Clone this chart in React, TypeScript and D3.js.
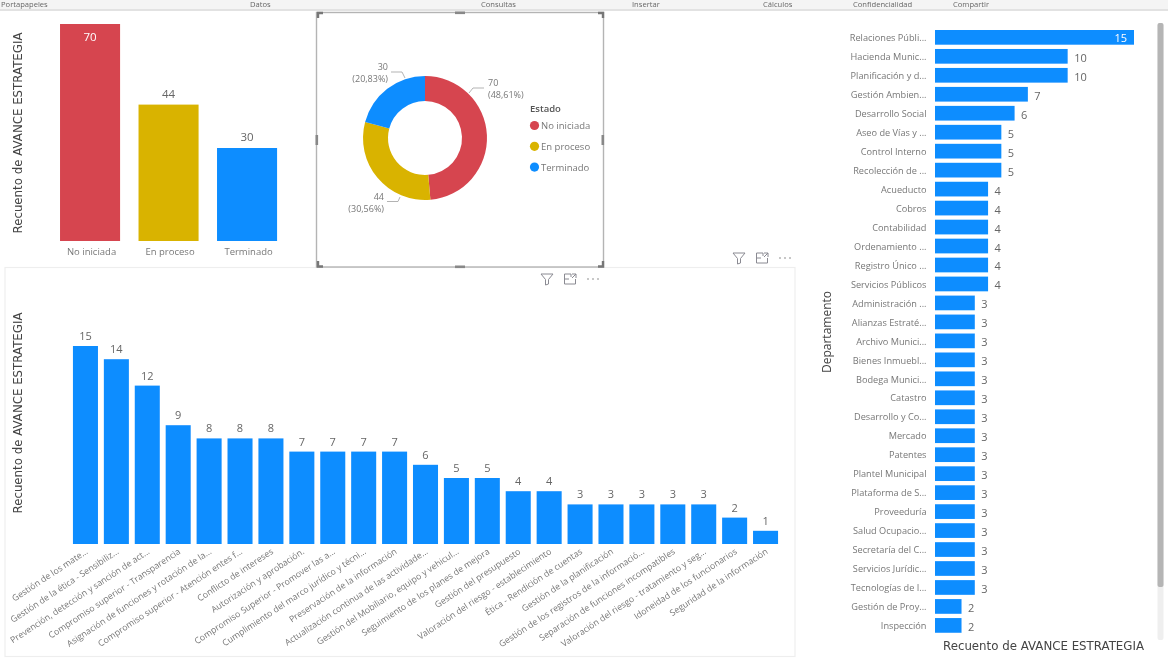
import React from "react";
import * as d3 from "d3";

const estados = ["No iniciada", "En proceso", "Terminado"];
const estadoValues = [70, 44, 30];
const estadoColors = ["#D64550", "#D9B300", "#118DFF"];
const estadoPct = ["(48,61%)", "(30,56%)", "(20,83%)"];

const procesos = [
  "Gestión de los mate...", "Gestión de la ética - Sensibiliz...", "Prevención, detección y sanción de act...",
  "Compromiso superior - Transparencia", "Asignación de funciones y rotación de la...", "Compromiso superior - Atención entes f...",
  "Conflicto de intereses", "Autorización y aprobación.", "Compromiso Superior - Promover las a...",
  "Cumplimiento del marco jurídico y técni...", "Preservación de la información", "Actualización continua de las actividade...",
  "Gestión del Mobiliario, equipo y vehicul...", "Seguimiento de los planes de mejora", "Gestión del presupuesto",
  "Valoración del riesgo - establecimiento", "Ética - Rendición de cuentas", "Gestión de la planificación",
  "Gestión de los registros de la informació...", "Separación de funciones incompatibles", "Valoración del riesgo - tratamiento y seg...",
  "Idoneidad de los funcionarios", "Seguridad de la información",
];
const procesoValues = [15, 14, 12, 9, 8, 8, 8, 7, 7, 7, 7, 6, 5, 5, 4, 4, 3, 3, 3, 3, 3, 2, 1];

const departamentos = [
  "Relaciones Públi...", "Hacienda Munic...", "Planificación y d...", "Gestión Ambien...", "Desarrollo Social", "Aseo de Vías y ...",
  "Control Interno", "Recolección de ...", "Acueducto", "Cobros", "Contabilidad", "Ordenamiento ...", "Registro Único ...",
  "Servicios Públicos", "Administración ...", "Alianzas Estraté...", "Archivo Munici...", "Bienes Inmuebl...", "Bodega Munici...",
  "Catastro", "Desarrollo y Co...", "Mercado", "Patentes", "Plantel Municipal", "Plataforma de S...", "Proveeduría",
  "Salud Ocupacio...", "Secretaría del C...", "Servicios Jurídic...", "Tecnologías de I...", "Gestión de Proy...", "Inspección",
];
const departamentoValues = [15, 10, 10, 7, 6, 5, 5, 5, 4, 4, 4, 4, 4, 4, 3, 3, 3, 3, 3, 3, 3, 3, 3, 3, 3, 3, 3, 3, 3, 3, 2, 2];

const ribbonLabels = ["Portapapeles", "Datos", "Consultas", "Insertar", "Cálculos", "Confidencialidad", "Compartir"];
const ribbonX = [1, 250, 481, 632, 763, 853, 953];

const FONT = "'Open Sans', sans-serif";
const TITLE_FONT = "'DejaVu Sans', sans-serif";
const BLUE = "#118DFF";

function Icons({ x, y }: { x: number; y: number }) {
  return (
    <g transform={`translate(${x},${y})`} fill="none" stroke="#8a8a92" strokeWidth={1}>
      <path d="M-6,-5 H6 L1.5,0.5 V5 L-1.5,6 V0.5 Z" />
      <path d="M24,-2 V-5 H17.5 V5 H28.5 V0 M22,0 H17.5 M25,-5 H29 V-1 M29,-5 L25,-1" />
      <circle cx={41} cy={0} r={0.7} fill="#666" stroke="none" />
      <circle cx={46} cy={0} r={0.7} fill="#666" stroke="none" />
      <circle cx={51} cy={0} r={0.7} fill="#666" stroke="none" />
    </g>
  );
}

export default function App() {
  // top-left bars
  const x1 = d3.scaleBand().domain(estados).range([50.8, 286.3]).paddingInner(0.235).paddingOuter(0.1175);
  const y1 = d3.scaleLinear().domain([0, 70]).range([241, 24]);

  // donut
  const pie = d3.pie<number>().sort(null).startAngle(0).endAngle(Math.PI * 2)(estadoValues);
  const arc = d3.arc<d3.PieArcDatum<number>>().innerRadius(37).outerRadius(62);
  const donutLabels = [
    { line: "M469,93 L473,88 L484,88", a: [488, 83], b: [488, 95], anchor: "start" },
    { line: "M400,197 L398,201.5 L387,201.5", a: [384, 197], b: [384, 209], anchor: "end" },
    { line: "M405,78 L402,72 L391,72", a: [388, 67], b: [388, 79], anchor: "end" },
  ];

  // bottom bars
  const x2 = d3.scaleBand().domain(procesos).range([70, 781]).paddingInner(0.19).paddingOuter(0.095);
  const y2 = d3.scaleLinear().domain([0, 15]).range([544, 346]);

  // right bars
  const y3 = d3.scaleBand().domain(departamentos).range([27.87, 634.9]).paddingInner(0.225).paddingOuter(0.1125);
  const x3 = d3.scaleLinear().domain([0, 15]).range([935, 1134]);

  return (
    <svg width={1168} height={668} style={{ position: "absolute", left: 0, top: 0, display: "block", background: "#fff" }}>
      <defs>
        <filter id="soft" x="-2%" y="-2%" width="104%" height="104%"><feGaussianBlur stdDeviation="0.35" /></filter>
      </defs>
      <g filter="url(#soft)">
        {/* ribbon remnant */}
        <rect x={0} y={0} width={1168} height={9} fill="#f4f4f4" />
        <rect x={0} y={9} width={1168} height={2} fill="#e2e2e2" />
        {ribbonLabels.map((t, i) => (
          <text key={t} x={ribbonX[i]} y={6.5} fontFamily={FONT} fontSize={7.6} fill="#666">{t}</text>
        ))}

        {/* panels */}
        <rect x={5} y={267.5} width={790} height={389} fill="#fff" stroke="#eeeeee" strokeWidth={1.2} />
        <rect x={316.5} y={12.5} width={287} height={254.5} fill="#fff" stroke="#b4b4b4" strokeWidth={1.4} />
        <g fill="none" stroke="#777" strokeWidth={2.4}>
          <path d="M318,18 V13 H323" />
          <path d="M598,13 H603 V18" />
          <path d="M318,261 V266.5 H323" />
          <path d="M598,266.5 H603 V261" />
        </g>
        <g fill="#888">
          <rect x={455} y={11.5} width={10} height={2.6} />
          <rect x={455} y={265.5} width={10} height={2.6} />
          <rect x={315.5} y={135} width={2.6} height={10} />
          <rect x={601.5} y={135} width={2.6} height={10} />
        </g>
        <Icons x={739} y={258} />
        <Icons x={547} y={279} />

        {/* top-left bars */}
        {estados.map((c, i) => (
          <g key={c}>
            <rect x={x1(c)} y={y1(estadoValues[i])} width={x1.bandwidth()} height={y1(0) - y1(estadoValues[i])} fill={estadoColors[i]} />
            <text
              x={x1(c)! + x1.bandwidth() / 2}
              y={i === 0 ? y1(estadoValues[i]) + 17 : y1(estadoValues[i]) - 7}
              textAnchor="middle" fontFamily={FONT} fontSize={11.5}
              fill={i === 0 ? "#fff" : "#666"}
            >{estadoValues[i]}</text>
            <text x={x1(c)! + x1.bandwidth() / 2 + 1.5} y={255} textAnchor="middle" fontFamily={FONT} fontSize={9.5} fill="#777">{c}</text>
          </g>
        ))}
        <text transform="translate(21.5,133) rotate(-90)" textAnchor="middle" fontFamily={TITLE_FONT} fontSize={11.8} fill="#444">Recuento de AVANCE ESTRATEGIA</text>

        {/* donut */}
        <g transform="translate(425,138)">
          {pie.map((d, i) => <path key={i} d={arc(d)!} fill={estadoColors[i]} />)}
        </g>
        {donutLabels.map((l, i) => (
          <g key={i} fontFamily={FONT} fontSize={9} fill="#777" textAnchor={l.anchor}>
            <path d={l.line} fill="none" stroke="#aaa" strokeWidth={0.9} />
            <text x={l.a[0]} y={l.a[1] + 3}>{estadoValues[i]}</text>
            <text x={l.b[0]} y={l.b[1] + 3}>{estadoPct[i]}</text>
          </g>
        ))}
        <text x={530} y={112} fontFamily={FONT} fontSize={9.5} fontWeight={600} fill="#555">Estado</text>
        {estados.map((c, i) => (
          <g key={c}>
            <circle cx={534.5} cy={125.5 + i * 20.8} r={4.6} fill={estadoColors[i]} />
            <text x={541} y={129 + i * 20.8} fontFamily={FONT} fontSize={9.5} fill="#777">{c}</text>
          </g>
        ))}

        {/* bottom bars */}
        {procesos.map((c, i) => {
          const cx = x2(c)! + x2.bandwidth() / 2;
          return (
            <g key={c}>
              <rect x={x2(c)} y={y2(procesoValues[i])} width={x2.bandwidth()} height={y2(0) - y2(procesoValues[i])} fill={BLUE} />
              <text x={cx} y={y2(procesoValues[i]) - 6} textAnchor="middle" fontFamily={FONT} fontSize={11} fill="#666">{procesoValues[i]}</text>
              <text transform={`translate(${cx + 3},553) rotate(-33.4)`} textAnchor="end" fontFamily={FONT} fontSize={8.8} fill="#777">{c}</text>
            </g>
          );
        })}
        <text transform="translate(21.5,413) rotate(-90)" textAnchor="middle" fontFamily={TITLE_FONT} fontSize={11.8} fill="#444">Recuento de AVANCE ESTRATEGIA</text>

        {/* right bars */}
        {departamentos.map((c, i) => {
          const v = departamentoValues[i];
          const cy = y3(c)! + y3.bandwidth() / 2;
          return (
            <g key={c}>
              <rect x={x3(0)} y={y3(c)} width={x3(v) - x3(0)} height={y3.bandwidth()} fill={BLUE} />
              <text x={926.5} y={cy + 3.7} textAnchor="end" fontFamily={FONT} fontSize={9.2} fill="#777">{c}</text>
              {i === 0
                ? <text x={x3(v) - 7} y={cy + 4.5} textAnchor="end" fontFamily={FONT} fontSize={11} fill="#fff">{v}</text>
                : <text x={x3(v) + 6.5} y={cy + 5.5} fontFamily={FONT} fontSize={11} fill="#666">{v}</text>}
            </g>
          );
        })}
        <text transform="translate(831,332) rotate(-90)" textAnchor="middle" fontFamily={FONT} fontSize={12} fill="#444">Departamento</text>
        <text x={1043.5} y={650} textAnchor="middle" fontFamily={TITLE_FONT} fontSize={11.8} fill="#444">Recuento de AVANCE ESTRATEGIA</text>

        {/* scrollbar */}
        <rect x={1157.5} y={23} width={6} height={617} fill="#efefef" rx={2} />
        <rect x={1157.5} y={23} width={6} height={564} fill="#b5b5b5" rx={2} />
      </g>
    </svg>
  );
}
